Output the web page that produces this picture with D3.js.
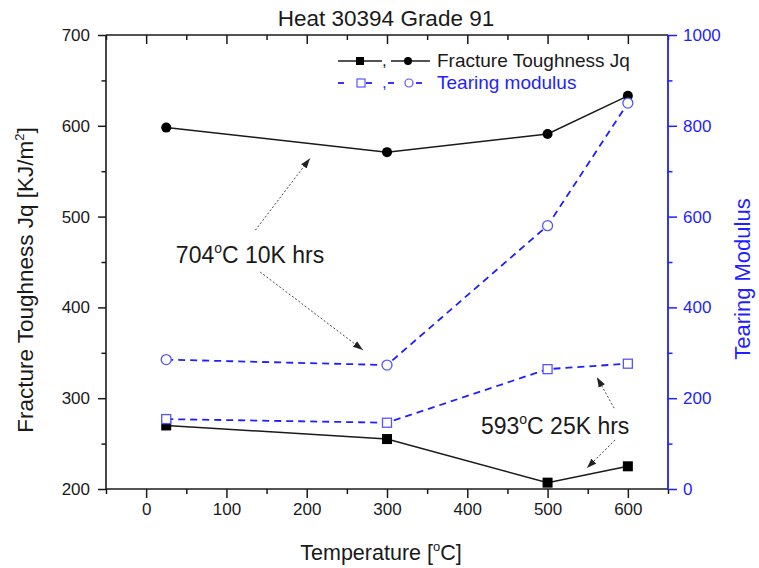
<!DOCTYPE html>
<html><head><meta charset="utf-8">
<script src="https://cdn.jsdelivr.net/npm/d3@7"></script>
<style>body{margin:0;background:#fff}svg{display:block;font-family:"Liberation Sans",Arial,sans-serif}</style>
</head><body>
<svg id="c" width="759" height="568"></svg>
<script>
// ---- data ----
const temps = [25, 300, 500, 600];
const jq704 = [598, 571, 591, 633];
const jq593 = [270, 255, 207, 225];
const tm704 = [285, 273, 580, 850];
const tm593 = [154, 146, 264, 276];
const xTicks = [0, 100, 200, 300, 400, 500, 600];
const yLeftTicks = [200, 300, 400, 500, 600, 700];
const yRightTicks = [0, 200, 400, 600, 800, 1000];
const annoLabels = [
  {t1: "704", t2: "C 10K hrs", x: 37, y: 449},
  {t1: "593", t2: "C 25K hrs", x: 417, y: 260.5}
];
const arrows = [
  {x1: 136, y1: 485, x2: 204, y2: 564},
  {x1: 142, y1: 439, x2: 270, y2: 353},
  {x1: 583, y1: 289, x2: 561.5, y2: 323},
  {x1: 584, y1: 254, x2: 549, y2: 223}
];

const BLUE = "#1f1fff", BLUE_M = "#5555ff", INK = "#1a1a1a";
const L = 106, R = 668, T = 35, B = 489;
const svg = d3.select("#c");
const x = d3.scaleLinear().domain([-50, 650]).range([L, R]);
const yL = d3.scaleLinear().domain([200, 700]).range([B, T]);
const yR = d3.scaleLinear().domain([0, 1000]).range([B, T]);

const minorX = d3.range(-50, 651, 50).filter(v => v % 100 !== 0);
const minorYL = d3.range(250, 700, 100);
const minorYR = d3.range(100, 1000, 200);

// axes
function styleAxis(g, color, size) {
  g.select(".domain").remove();
  g.selectAll("line").attr("stroke", color).attr("stroke-width", 1.5);
  g.selectAll("text").attr("fill", color).attr("font-size", size);
}
const gB = svg.append("g").attr("transform", `translate(0,${B})`)
  .call(d3.axisBottom(x).tickValues(xTicks).tickSize(9).tickPadding(5).tickFormat(d3.format("d")));
styleAxis(gB, INK, 17);
svg.append("g").attr("transform", `translate(0,${B})`)
  .call(d3.axisBottom(x).tickValues(minorX).tickSize(5).tickFormat(""))
  .call(g => styleAxis(g, INK, 17));
svg.append("g").attr("transform", `translate(0,${T})`)
  .call(d3.axisBottom(x).tickValues(xTicks).tickSize(9).tickFormat(""))
  .call(g => styleAxis(g, INK, 17));
svg.append("g").attr("transform", `translate(0,${T})`)
  .call(d3.axisBottom(x).tickValues(minorX).tickSize(5).tickFormat(""))
  .call(g => styleAxis(g, INK, 17));
const gL = svg.append("g").attr("transform", `translate(${L},0)`)
  .call(d3.axisLeft(yL).tickValues(yLeftTicks).tickSize(8).tickPadding(8).tickFormat(d3.format("d")));
styleAxis(gL, INK, 17);
svg.append("g").attr("transform", `translate(${L},0)`)
  .call(d3.axisLeft(yL).tickValues(minorYL).tickSize(4.5).tickFormat(""))
  .call(g => styleAxis(g, INK, 17));
const gR = svg.append("g").attr("transform", `translate(${R},0)`)
  .call(d3.axisRight(yR).tickValues(yRightTicks).tickSize(9).tickPadding(6).tickFormat(d3.format("d")));
styleAxis(gR, BLUE, 17);
svg.append("g").attr("transform", `translate(${R},0)`)
  .call(d3.axisRight(yR).tickValues(minorYR).tickSize(4.5).tickFormat(""))
  .call(g => styleAxis(g, BLUE, 17));

// frame lines
svg.append("line").attr("x1", L).attr("x2", R).attr("y1", B).attr("y2", B).attr("stroke", INK).attr("stroke-width", 1.6);
svg.append("line").attr("x1", L).attr("x2", R).attr("y1", T).attr("y2", T).attr("stroke", INK).attr("stroke-width", 1.6);
svg.append("line").attr("x1", L).attr("x2", L).attr("y1", T).attr("y2", B).attr("stroke", INK).attr("stroke-width", 1.6);
svg.append("line").attr("x1", R).attr("x2", R).attr("y1", T).attr("y2", B).attr("stroke", BLUE).attr("stroke-width", 1.8);

// series lines
const lineL = d3.line().x((d, i) => x(temps[i])).y(d => yL(d));
const lineR = d3.line().x((d, i) => x(temps[i])).y(d => yR(d));
svg.append("path").attr("d", lineR(tm704)).attr("fill", "none").attr("stroke", BLUE).attr("stroke-width", 1.8).attr("stroke-dasharray", "7,5");
svg.append("path").attr("d", lineR(tm593)).attr("fill", "none").attr("stroke", BLUE).attr("stroke-width", 1.8).attr("stroke-dasharray", "7,5");
svg.append("path").attr("d", lineL(jq704)).attr("fill", "none").attr("stroke", INK).attr("stroke-width", 1.5);
svg.append("path").attr("d", lineL(jq593)).attr("fill", "none").attr("stroke", INK).attr("stroke-width", 1.5);

// markers
svg.selectAll(".sq").data(jq593).join("rect")
  .attr("x", (d, i) => x(temps[i]) - 5).attr("y", d => yL(d) - 5).attr("width", 10).attr("height", 10).attr("fill", "#000");
svg.selectAll(".ci").data(jq704).join("circle")
  .attr("cx", (d, i) => x(temps[i])).attr("cy", d => yL(d)).attr("r", 5).attr("fill", "#000");
svg.selectAll(".osq").data(tm593).join("rect")
  .attr("x", (d, i) => x(temps[i]) - 4.5).attr("y", d => yR(d) - 4.5).attr("width", 9).attr("height", 9)
  .attr("fill", "#fff").attr("stroke", BLUE_M).attr("stroke-width", 1.3);
svg.selectAll(".oci").data(tm704).join("circle")
  .attr("cx", (d, i) => x(temps[i])).attr("cy", d => yR(d)).attr("r", 5)
  .attr("fill", "#fff").attr("stroke", BLUE_M).attr("stroke-width", 1.3);

// arrows
const defs = svg.append("defs");
defs.append("marker").attr("id", "ah").attr("viewBox", "0 0 10 10").attr("refX", 10).attr("refY", 5)
  .attr("markerWidth", 10).attr("markerHeight", 10).attr("markerUnits", "userSpaceOnUse").attr("orient", "auto")
  .append("path").attr("d", "M0,1.5 L10,5 L0,8.5 Z").attr("fill", "#222");
svg.selectAll(".arr").data(arrows).join("line")
  .attr("x1", d => x(d.x1)).attr("y1", d => yL(d.y1)).attr("x2", d => x(d.x2)).attr("y2", d => yL(d.y2))
  .attr("stroke", "#444").attr("stroke-width", 1).attr("stroke-dasharray", "2,2").attr("marker-end", "url(#ah)");

// annotation labels
annoLabels.forEach(a => {
  const t = svg.append("text").attr("x", x(a.x)).attr("y", yL(a.y)).attr("font-size", 23).attr("fill", INK);
  t.append("tspan").text(a.t1);
  t.append("tspan").attr("font-size", 14).attr("dy", -10).text("o");
  t.append("tspan").attr("dy", 10).text(a.t2);
});

// title
svg.append("text").attr("x", 386).attr("y", 26).attr("text-anchor", "middle").attr("font-size", 22.5).attr("fill", INK)
  .text("Heat 30394 Grade 91");

// x title
const xt = svg.append("text").attr("x", 381).attr("y", 560).attr("text-anchor", "middle").attr("font-size", 21.5).attr("fill", INK);
xt.append("tspan").text("Temperature [");
xt.append("tspan").attr("font-size", 13).attr("dy", -9).text("o");
xt.append("tspan").attr("dy", 9).text("C]");

// left title
const lt = svg.append("text").attr("transform", "translate(33,280) rotate(-90)").attr("text-anchor", "middle")
  .attr("font-size", 22.5).attr("fill", INK);
lt.append("tspan").text("Fracture Toughness Jq [KJ/m");
lt.append("tspan").attr("font-size", 13).attr("dy", -9).text("2");
lt.append("tspan").attr("dy", 9).text("]");

// right title
svg.append("text").attr("transform", "translate(750,279) rotate(-90)").attr("text-anchor", "middle")
  .attr("font-size", 22).attr("fill", BLUE).text("Tearing Modulus");

// legend
const lg = svg.append("g");
lg.append("line").attr("x1", 338).attr("x2", 382).attr("y1", 61).attr("y2", 61).attr("stroke", INK).attr("stroke-width", 1.5);
lg.append("rect").attr("x", 356).attr("y", 57).attr("width", 8).attr("height", 8).attr("fill", "#000");
lg.append("text").attr("x", 382).attr("y", 66).attr("font-size", 17).attr("fill", INK).text(",");
lg.append("line").attr("x1", 391).attr("x2", 430).attr("y1", 61).attr("y2", 61).attr("stroke", INK).attr("stroke-width", 1.5);
lg.append("circle").attr("cx", 408).attr("cy", 61).attr("r", 4).attr("fill", "#000");
lg.append("text").attr("x", 437).attr("y", 67).attr("font-size", 19).attr("fill", INK).text("Fracture Toughness Jq");

[[338, 344], [366, 372], [388, 394], [416, 422]].forEach(s => {
  lg.append("line").attr("x1", s[0]).attr("x2", s[1]).attr("y1", 83).attr("y2", 83).attr("stroke", BLUE).attr("stroke-width", 1.8);
});
lg.append("rect").attr("x", 357).attr("y", 79).attr("width", 8).attr("height", 8).attr("fill", "#fff").attr("stroke", BLUE_M).attr("stroke-width", 1.2);
lg.append("text").attr("x", 382).attr("y", 88).attr("font-size", 17).attr("fill", BLUE).text(",");
lg.append("circle").attr("cx", 409).attr("cy", 83).attr("r", 4).attr("fill", "#fff").attr("stroke", BLUE_M).attr("stroke-width", 1.2);
lg.append("text").attr("x", 437).attr("y", 89).attr("font-size", 19).attr("fill", BLUE).text("Tearing modulus");
</script>
</body></html>
